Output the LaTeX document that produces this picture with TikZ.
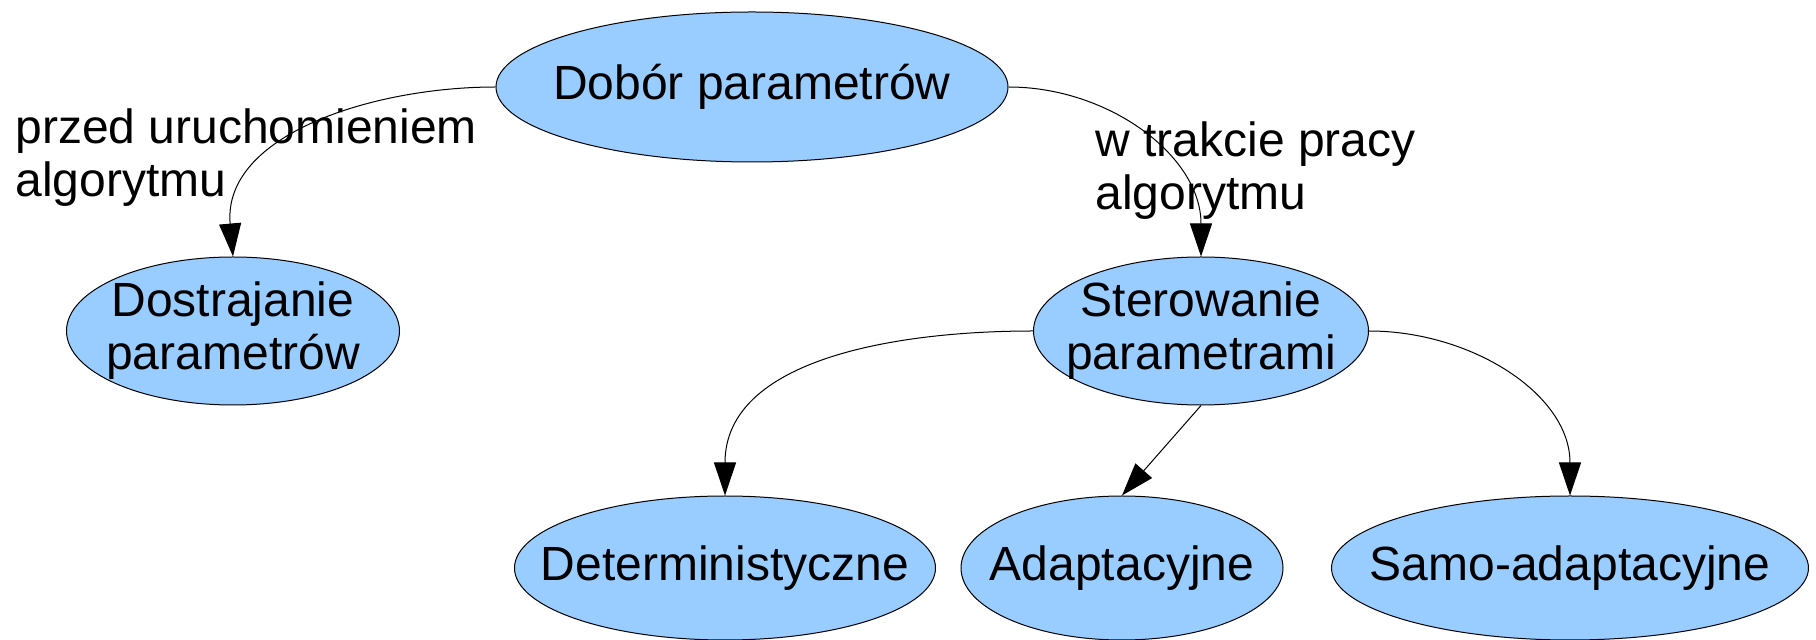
\documentclass[tikz,border=0pt]{standalone}
\usepackage{fontspec}
\setmainfont{Liberation Sans}
\definecolor{nodeblue}{HTML}{99CCFF}
\usetikzlibrary{shapes, arrows.meta, positioning}

\begin{document}
\begin{tikzpicture}[x=0.5pt, y=-0.5pt,
        ell/.style={ellipse, draw=black, fill=nodeblue, line width=0.5pt,
                    inner sep=0pt},
        txt/.style={font=\fontsize{24}{26.5}\selectfont, align=center,
                    inner sep=0pt},
        arr/.style={-{Triangle[length=16.5pt, width=11pt]}, line width=0.5pt}
      ]
        \useasboundingbox (0,0) rectangle (1816,640);

        \node[ell, minimum width=256pt, minimum height=75pt,
              label={[txt]center:Dobór parametrów}] (dob) at (752,87) {};
        \node[ell, minimum width=166.5pt, minimum height=74pt,
              label={[txt]center:Dostrajanie\\parametrów}] (dos) at (233,331) {};
        \node[ell, minimum width=167.5pt, minimum height=74pt,
              label={[txt]center:Sterowanie\\parametrami}] (ster) at (1201,331) {};
        \node[ell, minimum width=210.5pt, minimum height=72pt,
              label={[txt]center:Deterministyczne}] (det) at (725,568) {};
        \node[ell, minimum width=161pt, minimum height=72pt,
              label={[txt]center:Adaptacyjne}] (ada) at (1122,568) {};
        \node[ell, minimum width=238.5pt, minimum height=72pt,
              label={[txt]center:Samo-adaptacyjne}] (samo) at (1570,568) {};

        \draw[arr] (dob.west) to[out=180, in=95] (dos.north);
        \draw[arr] (dob.east) to[out=0, in=90] (ster.north);
        \draw[arr] (ster.west) to[out=180, in=90] (det.north);
        \draw[arr] (ster.south) -- (ada.north);
        \draw[arr] (ster.east) to[out=0, in=90] (samo.north);

        \node[txt, align=left, anchor=north west] (przed) at (15,108)
              {przed uruchomieniem\\algorytmu};
        \node[txt, align=left, anchor=north west] (trakcie) at (1095,121)
              {w trakcie pracy\\algorytmu};
      \end{tikzpicture}
\end{document}
